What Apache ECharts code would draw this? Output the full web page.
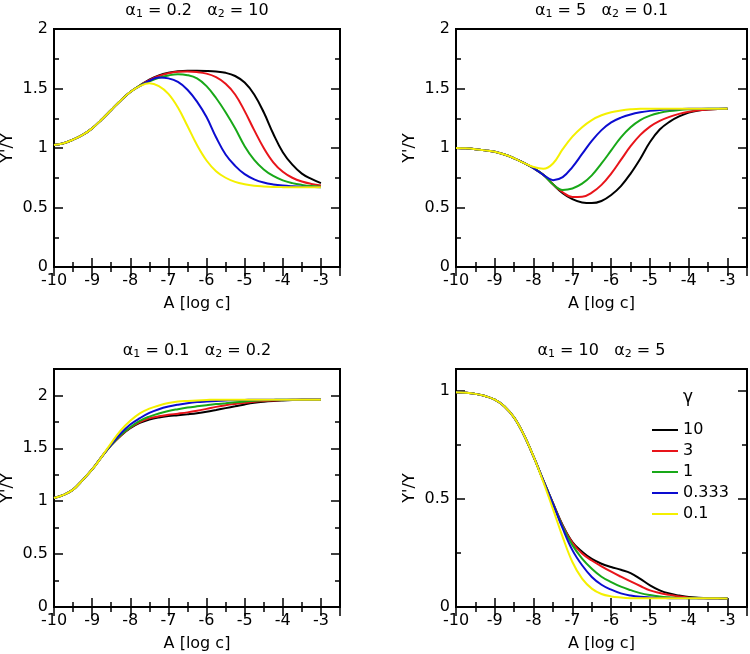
<!DOCTYPE html>
<html>
<head>
<meta charset="utf-8">
<script src="https://cdn.jsdelivr.net/npm/echarts@6/dist/echarts.min.js"></script>
<style>html,body{margin:0;padding:0;background:#fff}#c{width:750px;height:654px}</style>
</head>
<body>
<div id="c"></div>
<script>
// ---- data ----
const xs = [-10,-9.75,-9.5,-9.25,-9,-8.75,-8.5,-8.25,-8,-7.75,-7.5,-7.25,-7,-6.75,-6.5,-6.25,-6,-5.75,-5.5,-5.25,-5,-4.75,-4.5,-4.25,-4,-3.75,-3.5,-3.25,-3];
const gammaNames = ['10','3','1','0.333','0.1'];
const seriesColors = ['#000000','#e8141a','#18a818','#0c0cd0','#f4f000'];

const panelTitles = [
  ['0.2','10'],
  ['5','0.1'],
  ['0.1','0.2'],
  ['10','5']
];
const yMax = [2, 2, 2.25, 1.1];

// Panel 1: alpha1 = 0.2, alpha2 = 10
const p1Black  = [1.025,1.04,1.07,1.11,1.165,1.24,1.32,1.40,1.47,1.525,1.575,1.61,1.632,1.645,1.65,1.65,1.648,1.643,1.632,1.605,1.55,1.45,1.30,1.12,0.965,0.86,0.785,0.74,0.705];
const p1Red    = [1.025,1.04,1.07,1.11,1.165,1.24,1.32,1.40,1.47,1.525,1.57,1.605,1.628,1.64,1.642,1.638,1.625,1.595,1.54,1.45,1.31,1.15,1.0,0.88,0.80,0.75,0.718,0.698,0.685];
const p1Green  = [1.025,1.04,1.07,1.11,1.165,1.24,1.32,1.40,1.47,1.525,1.56,1.59,1.61,1.62,1.612,1.585,1.52,1.42,1.30,1.165,1.015,0.90,0.82,0.765,0.728,0.705,0.69,0.68,0.675];
const p1Blue   = [1.025,1.04,1.07,1.11,1.165,1.24,1.32,1.40,1.47,1.52,1.565,1.592,1.585,1.555,1.49,1.39,1.26,1.09,0.945,0.85,0.78,0.737,0.71,0.694,0.684,0.678,0.674,0.672,0.67];
const p1Yellow = [1.025,1.04,1.07,1.11,1.165,1.24,1.32,1.40,1.47,1.52,1.544,1.52,1.455,1.34,1.185,1.025,0.895,0.805,0.75,0.715,0.695,0.683,0.677,0.673,0.671,0.67,0.67,0.67,0.67];

// Panel 2: alpha1 = 5, alpha2 = 0.1
const p2Black  = [1.0,0.997,0.99,0.98,0.968,0.945,0.913,0.875,0.83,0.775,0.695,0.62,0.57,0.542,0.537,0.555,0.605,0.68,0.785,0.91,1.05,1.155,1.22,1.265,1.297,1.315,1.323,1.328,1.33];
const p2Red    = [1.0,0.997,0.99,0.98,0.968,0.945,0.913,0.875,0.83,0.775,0.695,0.628,0.588,0.59,0.625,0.69,0.785,0.90,1.015,1.11,1.18,1.228,1.262,1.287,1.305,1.317,1.324,1.328,1.33];
const p2Green  = [1.0,0.997,0.99,0.98,0.968,0.945,0.913,0.875,0.83,0.775,0.695,0.648,0.66,0.70,0.77,0.87,0.98,1.09,1.175,1.235,1.272,1.295,1.31,1.319,1.325,1.328,1.33,1.33,1.33];
const p2Blue   = [1.0,0.997,0.99,0.98,0.968,0.945,0.913,0.875,0.83,0.775,0.73,0.755,0.84,0.95,1.06,1.15,1.215,1.255,1.282,1.30,1.312,1.32,1.325,1.328,1.33,1.33,1.33,1.33,1.33];
const p2Yellow = [1.0,0.997,0.99,0.98,0.968,0.945,0.913,0.875,0.84,0.825,0.87,0.99,1.095,1.175,1.235,1.275,1.30,1.315,1.325,1.33,1.33,1.33,1.33,1.33,1.33,1.33,1.33,1.33,1.33];

// Panel 3: alpha1 = 0.1, alpha2 = 0.2
const p3Black  = [1.03,1.06,1.11,1.20,1.30,1.42,1.53,1.62,1.69,1.74,1.772,1.792,1.805,1.813,1.822,1.832,1.845,1.862,1.88,1.897,1.915,1.93,1.94,1.947,1.952,1.956,1.96,1.96,1.96];
const p3Red    = [1.03,1.06,1.11,1.20,1.30,1.42,1.53,1.62,1.695,1.748,1.783,1.803,1.817,1.828,1.84,1.855,1.873,1.892,1.908,1.92,1.93,1.94,1.947,1.952,1.956,1.96,1.96,1.96,1.96];
const p3Green  = [1.03,1.06,1.11,1.20,1.30,1.42,1.53,1.625,1.70,1.76,1.80,1.83,1.853,1.87,1.885,1.897,1.908,1.918,1.926,1.935,1.943,1.95,1.955,1.958,1.96,1.96,1.96,1.96,1.96];
const p3Blue   = [1.03,1.06,1.11,1.20,1.30,1.42,1.535,1.64,1.725,1.785,1.835,1.87,1.895,1.913,1.927,1.937,1.943,1.948,1.952,1.956,1.958,1.96,1.96,1.96,1.96,1.96,1.96,1.96,1.96];
const p3Yellow = [1.03,1.06,1.11,1.20,1.30,1.42,1.55,1.67,1.76,1.83,1.875,1.905,1.928,1.942,1.948,1.953,1.957,1.96,1.96,1.96,1.96,1.96,1.96,1.96,1.96,1.96,1.96,1.96,1.96];

// Panel 4: alpha1 = 10, alpha2 = 5
const p4Black  = [0.992,0.99,0.985,0.975,0.958,0.927,0.875,0.795,0.695,0.585,0.48,0.378,0.30,0.255,0.222,0.20,0.185,0.172,0.157,0.13,0.10,0.077,0.062,0.053,0.046,0.043,0.041,0.04,0.039];
const p4Red    = [0.992,0.99,0.985,0.975,0.958,0.927,0.875,0.795,0.695,0.585,0.48,0.375,0.297,0.247,0.215,0.188,0.163,0.14,0.118,0.097,0.077,0.065,0.056,0.048,0.043,0.041,0.04,0.04,0.039];
const p4Green  = [0.992,0.99,0.985,0.975,0.958,0.927,0.875,0.795,0.695,0.585,0.478,0.37,0.286,0.224,0.177,0.14,0.115,0.094,0.078,0.064,0.055,0.049,0.045,0.042,0.041,0.04,0.04,0.04,0.039];
const p4Blue   = [0.992,0.99,0.985,0.975,0.958,0.927,0.875,0.795,0.695,0.585,0.477,0.363,0.263,0.193,0.139,0.103,0.08,0.063,0.053,0.047,0.044,0.042,0.041,0.04,0.04,0.04,0.04,0.04,0.039];
const p4Yellow = [0.992,0.99,0.985,0.975,0.958,0.927,0.875,0.795,0.695,0.578,0.452,0.323,0.208,0.131,0.085,0.06,0.049,0.044,0.041,0.04,0.04,0.04,0.04,0.04,0.04,0.04,0.04,0.04,0.039];

const panels = [
  [p1Black,p1Red,p1Green,p1Blue,p1Yellow],
  [p2Black,p2Red,p2Green,p2Blue,p2Yellow],
  [p3Black,p3Red,p3Green,p3Blue,p3Yellow],
  [p4Black,p4Red,p4Green,p4Blue,p4Yellow]
];

// ---- layout ----
const gridRects = [
  {left:54, top:29, width:286, height:238},
  {left:456, top:29, width:291, height:238},
  {left:54, top:369, width:286, height:238},
  {left:456, top:369, width:291, height:238}
];
const FONT = '"DejaVu Sans", Verdana, sans-serif';
const tickStyle = {color:'#000', width:1.5};

const grids = gridRects.map(r => ({...r, show:true, borderColor:'#000', borderWidth:2, backgroundColor:'transparent',
  containLabel:false, outerBoundsMode:'none'}));

const xAxes = [], yAxes = [];
const isInt = v => Math.abs(v - Math.round(v)) < 1e-9;
const isHalf = v => Math.abs(v*2 - Math.round(v*2)) < 1e-9;

gridRects.forEach((r, gi) => {
  const baseX = {gridIndex:gi, type:'value', min:-10, max:-2.5, axisLine:{show:false}, splitLine:{show:false}};
  xAxes.push({...baseX, position:'bottom', interval:1,
    axisTick:{inside:true, length:9, lineStyle:tickStyle},
    axisLabel:{show:true, fontSize:16, color:'#000', fontFamily:FONT, margin:6, formatter:v => isInt(v) ? String(v) : ''},
    name:'A [log c]', nameLocation:'middle', nameGap:29,
    nameTextStyle:{fontSize:16, color:'#000', fontFamily:FONT}});
  xAxes.push({...baseX, position:'bottom', interval:0.5, axisTick:{inside:true, length:5, lineStyle:tickStyle}, axisLabel:{show:false}});
  xAxes.push({...baseX, position:'top', interval:1, axisTick:{inside:true, length:9, lineStyle:tickStyle}, axisLabel:{show:false}});
  xAxes.push({...baseX, position:'top', interval:0.5, axisTick:{inside:true, length:5, lineStyle:tickStyle}, axisLabel:{show:false}});

  const baseY = {gridIndex:gi, type:'value', min:0, max:yMax[gi], axisLine:{show:false}, splitLine:{show:false}};
  yAxes.push({...baseY, position:'left', interval:0.5,
    axisTick:{inside:true, length:9, lineStyle:tickStyle},
    axisLabel:{show:true, fontSize:16, color:'#000', fontFamily:FONT, margin:6, formatter:v => (isHalf(v) ? String(v) : '')},
    name:"Y'/Y", nameLocation:'middle', nameGap:38, nameRotate:90,
    nameTextStyle:{fontSize:16, color:'#000', fontFamily:FONT}});
  yAxes.push({...baseY, position:'left', interval:0.25, axisTick:{inside:true, length:5, lineStyle:tickStyle}, axisLabel:{show:false}});
  yAxes.push({...baseY, position:'right', interval:0.5, axisTick:{inside:true, length:9, lineStyle:tickStyle}, axisLabel:{show:false}});
  yAxes.push({...baseY, position:'right', interval:0.25, axisTick:{inside:true, length:5, lineStyle:tickStyle}, axisLabel:{show:false}});
});

const series = [];
panels.forEach((arrs, gi) => {
  arrs.forEach((arr, si) => {
    series.push({
      type:'line', name:gammaNames[si], xAxisIndex:gi*4, yAxisIndex:gi*4,
      data: xs.map((x, i) => [x, arr[i]]),
      showSymbol:false, symbol:'none', smooth:0.4, animation:false,
      lineStyle:{color:seriesColors[si], width:2},
      itemStyle:{color:seriesColors[si]},
      z: 2 + si
    });
  });
});

const rich = {
  a:{fontSize:16, fontFamily:FONT, color:'#000', lineHeight:18},
  s:{fontSize:11, fontFamily:FONT, color:'#000', lineHeight:6, verticalAlign:'bottom'}
};
const graphics = panelTitles.map((t, gi) => {
  const r = gridRects[gi];
  return {type:'text', x: r.left + r.width/2, y: r.top - 18,
    style:{text:'{a|α}{s|1}{a| = ' + t[0] + '   α}{s|2}{a| = ' + t[1] + '}', rich, align:'center', verticalAlign:'middle'}};
});
graphics.push({type:'text', x:688, y:398, style:{text:'γ', fontSize:17, fontFamily:FONT, fill:'#000', align:'center', verticalAlign:'middle'}});

const chart = echarts.init(document.getElementById('c'), null, {renderer:'canvas'});
chart.setOption({
  animation:false,
  backgroundColor:'#fff',
  grid:grids,
  xAxis:xAxes,
  yAxis:yAxes,
  legend:{data:gammaNames, orient:'vertical', left:647, top:417, icon:'rect', itemWidth:26, itemHeight:2, itemGap:5,
    selectedMode:false, textStyle:{fontSize:16, color:'#000', fontFamily:FONT, lineHeight:16}},
  graphic:graphics,
  series
});
</script>
</body>
</html>
